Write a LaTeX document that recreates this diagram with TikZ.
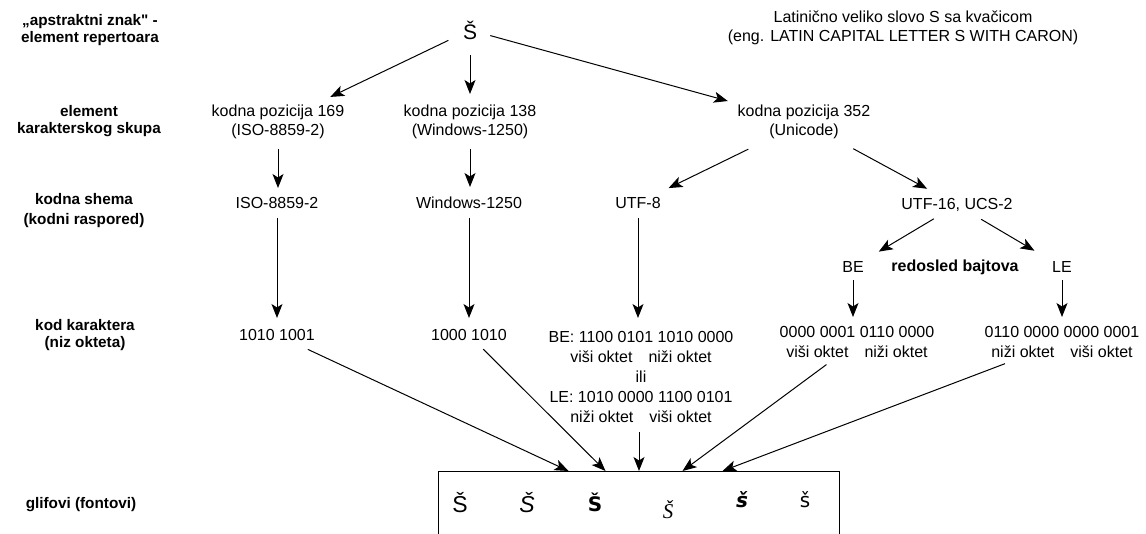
\documentclass[tikz,border=0pt]{standalone}
\usepackage{fontspec}
\setmainfont[Ligatures=TeXOff]{Liberation Sans}
\newfontfamily\dvs{DejaVu Sans}
\newfontfamily\libserif{Liberation Serif}
\usetikzlibrary{arrows.meta}
\begin{document}
\begin{tikzpicture}[x=1pt,y=-1pt,
  txt/.style={font=\fontsize{16}{19}\selectfont, align=center, inner sep=0pt},
  lbl/.style={font=\bfseries\fontsize{15.3}{16.5}\selectfont, align=center, inner sep=0pt},
  arr/.style={draw=black, line width=1pt, -{Stealth[length=14pt,width=11pt,inset=3.5pt]}},
  glyph/.style={inner sep=0pt}]
\path[use as bounding box, clip] (0,0) rectangle (1146,534);
\fill[white] (0,0) rectangle (1146,534);
% left labels
\node[lbl] (l1) at (90,30) {„apstraktni znak" -\\element repertoara};
\node[lbl] (l2) at (89,121) {element\\karakterskog skupa};
\node[lbl, font=\bfseries\fontsize{15.3}{20}\selectfont] (l3) at (84,211) {kodna shema\\(kodni raspored)};
\node[lbl] (l4) at (85,335) {kod karaktera\\(niz okteta)};
\node[lbl] (l5) at (81,505) {glifovi (fontovi)};
% top
\node[txt, font=\fontsize{21}{22}\selectfont] (S) at (470,30) {Š};
\node[txt] (desc) at (903,28) {Latinično veliko slovo S sa kvačicom\\(eng. LATIN CAPITAL LETTER S WITH CARON)};
% character set level
\node[txt] (kp169) at (278,122) {kodna pozicija 169\\(ISO-8859-2)};
\node[txt] (kp138) at (470,122) {kodna pozicija 138\\(Windows-1250)};
\node[txt] (kp352) at (804,122) {kodna pozicija 352\\(Unicode)};
% encoding level
\node[txt] (iso) at (277,203) {ISO-8859-2};
\node[txt] (win) at (469,203) {Windows-1250};
\node[txt] (utf8) at (638,203) {UTF-8};
\node[txt] (utf16) at (957,205) {UTF-16, UCS-2};
\node[txt] (be) at (853,267) {BE};
\node[txt, font=\bfseries\fontsize{16}{19}\selectfont] (rb) at (955,267) {redosled bajtova};
\node[txt] (le) at (1062,267) {LE};
% code level
\node[txt] (c1) at (277,335) {1010 1001};
\node[txt] (c2) at (469,335) {1000 1010};
\node[txt, font=\fontsize{16}{20}\selectfont] (c3) at (641,377) {BE: 1100 0101 1010 0000\\viši oktet\quad niži oktet\\ili\\LE: 1010 0000 1100 0101\\niži oktet\quad viši oktet};
\node[txt, font=\fontsize{16}{20}\selectfont] (c4) at (857,342) {0000 0001 0110 0000\\viši oktet\quad niži oktet};
\node[txt, font=\fontsize{16}{20}\selectfont] (c5) at (1062,342) {0110 0000 0000 0001\\niži oktet\quad viši oktet};
% glyph box
\node[draw=black, line width=1pt, anchor=north west, minimum width=401pt, minimum height=90pt, inner sep=0pt] (box) at (438,471) {};
\node[glyph, font=\fontsize{23}{23}\selectfont] (g1) at (460,503) {Š};
\node[glyph, font=\itshape\fontsize{23}{23}\selectfont] (g2) at (527,503) {Š};
\node[glyph, font=\dvs\bfseries\fontsize{20}{20}\selectfont] (g3) at (595,502) {Š};
\node[glyph, font=\libserif\itshape\fontsize{21}{21}\selectfont] (g4) at (668,510) {Š};
\node[glyph, font=\dvs\bfseries\itshape\fontsize{20}{20}\selectfont] (g5) at (742,500) {š};
\node[glyph, font=\dvs\fontsize{20}{20}\selectfont] (g6) at (805,500) {š};
\coordinate (t1) at ([xshift=-70.5pt]box.north);
\coordinate (t2) at ([xshift=-33.5pt]box.north);
\coordinate (t4) at ([xshift=43.5pt]box.north);
\coordinate (t5) at ([xshift=83.5pt]box.north);
% arrows
\draw[arr, shorten <=24pt, shorten >=58pt] (S.center) -- (kp169.center);
\draw[arr, shorten <=25pt, shorten >=28pt] (S.center) -- (kp138.center);
\draw[arr, shorten <=21pt, shorten >=79pt] (S.center) -- (kp352.center);
\draw[arr, shorten <=27pt, shorten >=15pt] (kp169.center) -- (kp169.center |- iso.center);
\draw[arr, shorten <=27pt, shorten >=16pt] (kp138.center) -- (kp138.center |- win.center);
\draw[arr, shorten <=62pt, shorten >=34pt] (kp352.center) -- (utf8.center);
\draw[arr, shorten <=56pt, shorten >=34pt] (kp352.center) -- (utf16.center);
\draw[arr, shorten <=27pt, shorten >=30pt] (utf16.center) -- (be.center);
\draw[arr, shorten <=28pt, shorten >=32pt] (utf16.center) -- (le.center);
\draw[arr, shorten <=15pt, shorten >=17pt] (iso.center) -- (c1.center);
\draw[arr, shorten <=15pt, shorten >=17pt] (win.center) -- (c2.center);
\draw[arr, shorten <=15pt, shorten >=59pt] (utf8.center) -- (utf8.center |- c3.center);
\draw[arr, shorten <=13pt, shorten >=25pt] (be.center) -- (be.center |- c4.center);
\draw[arr, shorten <=13pt, shorten >=25pt] (le.center) -- (c5.center);
\draw[arr, shorten <=34pt] (c1.center) -- (t1);
\draw[arr, shorten <=20pt] (c2.center) -- (t2);
\draw[arr, shorten <=55pt] (c3.center -| box.north) -- (box.north);
\draw[arr, shorten <=38pt] (c4.center) -- (t4);
\draw[arr, shorten <=61pt] (c5.center) -- (t5);
\end{tikzpicture}
\end{document}
